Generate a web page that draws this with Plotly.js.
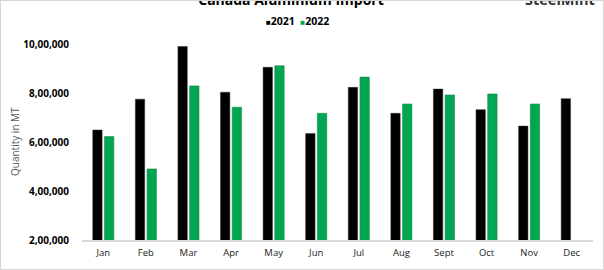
<!DOCTYPE html>
<html>
<head>
<meta charset="utf-8">
<script src="https://cdn.plot.ly/plotly-3.0.1.min.js"></script>
<style>
  html, body { margin: 0; padding: 0; background: #fff; }
  #chart { width: 604px; height: 270px; }
  #frame { position: absolute; left: 0; top: 0; width: 602px; height: 268px; border: 1px solid #d6d6d6; pointer-events: none; }
</style>
</head>
<body>
<div id="chart"></div>
<div id="frame"></div>
<script>
const months = ['Jan','Feb','Mar','Apr','May','Jun','Jul','Aug','Sept','Oct','Nov','Dec'];
const seriesNames = ['2021', '2022'];
const imports2021 = [649000, 775000, 990000, 803000, 905000, 635000, 823000, 717000, 816000, 732000, 665000, 777000];
const imports2022 = [622000, 490000, 829000, 742000, 911000, 717000, 865000, 755000, 792000, 796000, 755000, null];
const yTickVals = [200000, 400000, 600000, 800000, 1000000];
const yTickText = ['2,00,000', '4,00,000', '6,00,000', '8,00,000', '10,00,000'];

const W = 604, H = 270;
const L = 82, R = 11, T = 44, B = 30;
const plotW = W - L - R, plotH = H - T - B;
const colors = ['#000000', '#00A651'];

const traces = [
  { type: 'bar', name: seriesNames[0], x: months, y: imports2021, showlegend: false,
    marker: { color: colors[0], line: { color: '#333333', width: 0.5 } } },
  { type: 'bar', name: seriesNames[1], x: months, y: imports2022, showlegend: false,
    marker: { color: colors[1], line: { color: '#1b8a4c', width: 0.6 } } }
];

const legendText = seriesNames.map((n, i) =>
  `<span style="color:${colors[i]};font-size:8px">■</span>${n}`).join('  ');

const layout = {
  width: W, height: H,
  margin: { l: L, r: R, t: T, b: B, pad: 0 },
  paper_bgcolor: '#ffffff', plot_bgcolor: '#ffffff',
  font: { family: '"Open Sans", Arial, sans-serif', color: '#000' },
  barmode: 'group', bargap: 0.45, bargroupgap: 0.2,
  title: { text: 'Canada Aluminium Import', x: 291 / W, xref: 'container', xanchor: 'center',
           y: 1.0, yref: 'container', yanchor: 'middle',
           font: { size: 14, color: '#000', weight: 'bold', family: '"Open Sans", Arial, sans-serif' } },
  showlegend: false,
  xaxis: { type: 'category', showgrid: false, zeroline: false, showline: true,
           linecolor: '#d9d9d9', linewidth: 1.5, ticks: '',
           tickfont: { size: 9.5, color: '#222' }, ticklabelstandoff: 3 },
  yaxis: { range: [200000, 1000000], showgrid: false, zeroline: false, showline: false,
           tickvals: yTickVals, ticktext: yTickText, ticks: '',
           tickfont: { size: 10, color: '#000', weight: 'bold' }, ticklabelstandoff: 12 },
  annotations: [
    { text: legendText, xref: 'paper', yref: 'paper',
      x: (297 - L) / plotW, y: 1 + (T - 21) / plotH, xanchor: 'center', yanchor: 'middle', showarrow: false,
      font: { size: 10.5, color: '#000', weight: 'bold' } },
    { text: 'Quantity in MT', textangle: -90, xref: 'paper', yref: 'paper',
      x: (15 - L) / plotW, y: 0.5, xanchor: 'center', yanchor: 'middle', showarrow: false,
      font: { size: 10, color: '#595959' } },
    { text: 'SteelMint', xref: 'paper', yref: 'paper',
      x: (560 - L) / plotW, y: 1 + (T - 0) / plotH, xanchor: 'center', yanchor: 'middle', showarrow: false,
      font: { size: 14.5, color: '#333', weight: 'bold' } }
  ]
};

Plotly.newPlot('chart', traces, layout, { displayModeBar: false, staticPlot: true });
</script>
</body>
</html>
